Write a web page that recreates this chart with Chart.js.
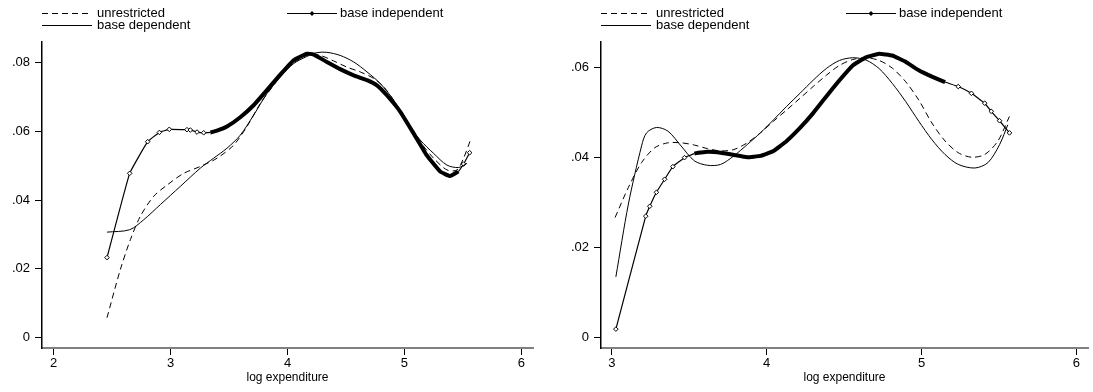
<!DOCTYPE html>
<html>
<head>
<meta charset="utf-8">
<script src="https://cdn.jsdelivr.net/npm/chart.js@4"></script>
<style>
    html, body { margin: 0; padding: 0; background: #fff; }
    #wrap { position: relative; width: 1093px; height: 392px; }
    canvas { position: absolute; top: 0; }
</style>
</head>
<body>
<div id="wrap">
    <canvas id="leftChart" width="546" height="392" style="left:0"></canvas>
    <canvas id="rightChart" width="547" height="392" style="left:546px"></canvas>
</div>
<script>
// === Datos ===
const seriesNames = ['unrestricted', 'base independent', 'base dependent'];
const axisTitle = 'log expenditure';

// Panel izquierdo
const leftXTicks = [2, 3, 4, 5, 6];
const leftYTicks = [0, 0.02, 0.04, 0.06, 0.08];

const leftUnrestrictedX = [2.456, 2.57, 2.656, 2.741, 2.855, 2.97, 3.112, 3.254, 3.397, 3.539, 3.653, 3.767, 3.881, 3.995, 4.11, 4.195, 4.28, 4.394, 4.508, 4.622, 4.737, 4.822, 4.908, 5.02, 5.135, 5.25, 5.364, 5.45, 5.506, 5.563];
const leftUnrestrictedY = [0.0058, 0.0198, 0.0285, 0.0353, 0.0411, 0.0444, 0.0478, 0.0498, 0.0522, 0.056, 0.0614, 0.0681, 0.0734, 0.0783, 0.0812, 0.0824, 0.0821, 0.0805, 0.0787, 0.0773, 0.0754, 0.073, 0.0691, 0.0633, 0.057, 0.0522, 0.0488, 0.0488, 0.0522, 0.0573];

const leftIndependentX = [2.456, 2.65, 2.804, 2.904, 2.989, 3.14, 3.169, 3.226, 3.283, 3.34, 3.397, 3.482, 3.596, 3.71, 3.824, 3.938, 4.052, 4.166, 4.22, 4.337, 4.45, 4.566, 4.68, 4.765, 4.85, 4.965, 5.079, 5.19, 5.307, 5.39, 5.46, 5.506, 5.558];
const leftIndependentY = [0.0233, 0.0478, 0.057, 0.0597, 0.0606, 0.0605, 0.0604, 0.0598, 0.0596, 0.0597, 0.0602, 0.0614, 0.0641, 0.0676, 0.072, 0.0765, 0.0807, 0.0826, 0.0824, 0.0802, 0.0781, 0.0763, 0.0749, 0.0734, 0.0705, 0.0657, 0.0594, 0.0531, 0.0483, 0.047, 0.0483, 0.0505, 0.0538];

const leftDependentX = [2.456, 2.65, 2.77, 2.912, 3.083, 3.254, 3.368, 3.482, 3.596, 3.71, 3.824, 3.938, 4.052, 4.166, 4.25, 4.337, 4.45, 4.566, 4.68, 4.794, 4.908, 5.02, 5.135, 5.25, 5.364, 5.464, 5.535];
const leftDependentY = [0.0307, 0.0314, 0.0343, 0.0387, 0.044, 0.0493, 0.0522, 0.0551, 0.0589, 0.0647, 0.071, 0.0758, 0.0797, 0.0818, 0.0829, 0.083, 0.0821, 0.0802, 0.0773, 0.0739, 0.0691, 0.0628, 0.0575, 0.0536, 0.0502, 0.0495, 0.0507];

// Panel derecho
const rightXTicks = [3, 4, 5, 6];
const rightYTicks = [0, 0.02, 0.04, 0.06];

const rightUnrestrictedX = [3.021, 3.107, 3.192, 3.277, 3.362, 3.447, 3.533, 3.618, 3.703, 3.788, 3.874, 3.959, 4.044, 4.129, 4.215, 4.3, 4.385, 4.47, 4.556, 4.641, 4.726, 4.811, 4.897, 4.982, 5.067, 5.152, 5.237, 5.322, 5.408, 5.493, 5.568];
const rightUnrestrictedY = [0.0267, 0.0334, 0.0389, 0.0422, 0.0433, 0.0433, 0.0428, 0.042, 0.0415, 0.0418, 0.0433, 0.0455, 0.0481, 0.0506, 0.0532, 0.0558, 0.0583, 0.0605, 0.0618, 0.0622, 0.0616, 0.0599, 0.0569, 0.0528, 0.0477, 0.0437, 0.0411, 0.0401, 0.0407, 0.0437, 0.0492];

const rightIndependentX = [3.026, 3.219, 3.245, 3.288, 3.341, 3.394, 3.469, 3.533, 3.618, 3.703, 3.788, 3.874, 3.959, 4.044, 4.129, 4.215, 4.3, 4.385, 4.47, 4.556, 4.641, 4.726, 4.811, 4.897, 4.982, 5.067, 5.152, 5.237, 5.322, 5.408, 5.45, 5.504, 5.568];
const rightIndependentY = [0.0019, 0.027, 0.0292, 0.0323, 0.0352, 0.038, 0.04, 0.0409, 0.0413, 0.0411, 0.0406, 0.0401, 0.0404, 0.0415, 0.0437, 0.0466, 0.0499, 0.0536, 0.0572, 0.0605, 0.0623, 0.0631, 0.0627, 0.0613, 0.0594, 0.058, 0.0568, 0.0558, 0.0543, 0.0521, 0.0503, 0.0482, 0.0455];

const rightDependentX = [3.026, 3.107, 3.192, 3.224, 3.288, 3.362, 3.447, 3.533, 3.618, 3.703, 3.788, 3.874, 3.959, 4.044, 4.129, 4.215, 4.3, 4.385, 4.47, 4.556, 4.641, 4.726, 4.811, 4.897, 4.982, 5.067, 5.152, 5.237, 5.344, 5.429, 5.504, 5.557];
const rightDependentY = [0.0135, 0.0297, 0.0426, 0.0455, 0.0467, 0.0459, 0.0426, 0.0393, 0.0383, 0.0385, 0.0404, 0.0429, 0.0455, 0.0484, 0.0514, 0.0543, 0.0572, 0.0598, 0.0616, 0.0622, 0.0617, 0.0598, 0.0565, 0.0525, 0.0481, 0.044, 0.0407, 0.0385, 0.0377, 0.0389, 0.0429, 0.0473];

// === Utilidades ===
const FONT = '"Liberation Sans", Arial, Helvetica, sans-serif';
const toPoints = (xs, ys) => xs.map((x, i) => ({ x: x, y: ys[i] }));
const yLabel = v => (v === 0 ? '0' : String(v).replace(/^0/, ''));

// Leyenda estilo Stata, dibujada sobre el canvas
const stataLegend = {
    id: 'stataLegend',
    afterDraw(chart) {
        const ctx = chart.ctx;
        const L = chart.chartArea.left;
        ctx.save();
        ctx.strokeStyle = '#000';
        ctx.fillStyle = '#000';
        ctx.lineWidth = 1;
        ctx.font = '13px ' + FONT;
        ctx.textBaseline = 'middle';

        // unrestricted (discontinua)
        ctx.setLineDash([6, 4]);
        ctx.beginPath(); ctx.moveTo(L, 13.5); ctx.lineTo(L + 50, 13.5); ctx.stroke();
        ctx.setLineDash([]);
        ctx.fillText(seriesNames[0], L + 55, 13);

        // base dependent (continua)
        ctx.beginPath(); ctx.moveTo(L, 25.5); ctx.lineTo(L + 50, 25.5); ctx.stroke();
        ctx.fillText(seriesNames[2], L + 55, 25);

        // base independent (continua con rombo)
        const x0 = L + 245;
        ctx.beginPath(); ctx.moveTo(x0, 13.5); ctx.lineTo(x0 + 50, 13.5); ctx.stroke();
        ctx.beginPath();
        ctx.moveTo(x0 + 25, 11); ctx.lineTo(x0 + 27.5, 13.5);
        ctx.lineTo(x0 + 25, 16); ctx.lineTo(x0 + 22.5, 13.5);
        ctx.closePath(); ctx.fill();
        ctx.fillText(seriesNames[1], x0 + 53, 13);
        ctx.restore();
    }
};

const makeChart = (canvasId, opts) => {
    const lo = opts.denseFrom, hi = opts.denseTo;
    const ctx = document.getElementById(canvasId).getContext('2d');
    return new Chart(ctx, {
        type: 'scatter',
        data: {
            datasets: [
                {
                    label: seriesNames[0],
                    data: toPoints(opts.unX, opts.unY),
                    showLine: true,
                    borderColor: '#000',
                    borderWidth: 1,
                    borderDash: [6, 4],
                    pointRadius: 0,
                    tension: 0.3
                },
                {
                    label: seriesNames[2],
                    data: toPoints(opts.depX, opts.depY),
                    showLine: true,
                    borderColor: '#000',
                    borderWidth: 1,
                    pointRadius: 0,
                    tension: 0.3
                },
                {
                    label: seriesNames[1],
                    data: toPoints(opts.indX, opts.indY),
                    showLine: true,
                    borderColor: '#000',
                    borderWidth: 1,
                    tension: 0.1,
                    segment: {
                        borderWidth: c => (c.p0.parsed.x >= lo && c.p1.parsed.x <= hi ? 4 : 1.2)
                    },
                    pointStyle: 'rectRot',
                    pointRadius: c => {
                        const x = c.raw ? c.raw.x : 0;
                        return (x < lo || x > hi) ? 2.3 : 0;
                    },
                    pointBackgroundColor: '#fff',
                    pointBorderColor: '#000',
                    pointBorderWidth: 1
                }
            ]
        },
        options: {
            responsive: false,
            animation: false,
            devicePixelRatio: 1,
            layout: { padding: { top: 42, right: opts.padRight, left: 0, bottom: 0 } },
            plugins: {
                legend: { display: false },
                tooltip: { enabled: false }
            },
            scales: {
                x: {
                    type: 'linear',
                    min: opts.xMin,
                    max: opts.xMax,
                    afterBuildTicks: s => { s.ticks = opts.xTicks.map(v => ({ value: v })); },
                    afterFit: s => { s.height = 44; },
                    ticks: {
                        autoSkip: false,
                        maxRotation: 0,
                        padding: 1,
                        color: '#000',
                        font: { family: FONT, size: 13 },
                        callback: v => String(v)
                    },
                    grid: { drawOnChartArea: false, drawTicks: true, tickLength: 7, color: '#000' },
                    border: { display: true, color: '#808080', width: 2 },
                    title: {
                        display: true,
                        text: axisTitle,
                        color: '#000',
                        font: { family: FONT, size: 12 },
                        padding: { top: 0, bottom: 7 }
                    }
                },
                y: {
                    type: 'linear',
                    min: opts.yMin,
                    max: opts.yMax,
                    afterBuildTicks: s => { s.ticks = opts.yTicks.map(v => ({ value: v })); },
                    afterFit: s => { s.width = opts.yWidth; },
                    ticks: {
                        autoSkip: false,
                        padding: 5,
                        color: '#000',
                        font: { family: FONT, size: 13 },
                        callback: v => yLabel(v)
                    },
                    grid: { drawOnChartArea: false, drawTicks: true, tickLength: 7, color: '#000' },
                    border: { display: true, color: '#000', width: 1.5 }
                }
            }
        },
        plugins: [stataLegend]
    });
};

// === Inicialización ===
makeChart('leftChart', {
    unX: leftUnrestrictedX, unY: leftUnrestrictedY,
    indX: leftIndependentX, indY: leftIndependentY,
    depX: leftDependentX, depY: leftDependentY,
    xTicks: leftXTicks, yTicks: leftYTicks,
    xMin: 1.9, xMax: 6.1, yMin: -0.003, yMax: 0.086,
    denseFrom: 3.3, denseTo: 5.47,
    yWidth: 42, padRight: 13
});

makeChart('rightChart', {
    unX: rightUnrestrictedX, unY: rightUnrestrictedY,
    indX: rightIndependentX, indY: rightIndependentY,
    depX: rightDependentX, depY: rightDependentY,
    xTicks: rightXTicks, yTicks: rightYTicks,
    xMin: 2.93, xMax: 6.075, yMin: -0.0023, yMax: 0.0657,
    denseFrom: 3.5, denseTo: 5.16,
    yWidth: 55, padRight: 1
});
</script>
</body>
</html>
